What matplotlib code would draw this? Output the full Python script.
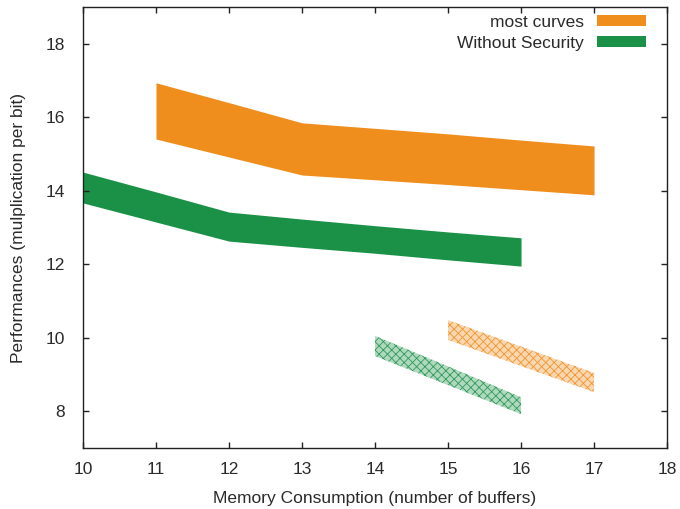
import matplotlib
matplotlib.use("Agg")
import matplotlib.pyplot as plt
from matplotlib.patches import Patch

plt.rcParams['font.family'] = ['Liberation Sans', 'DejaVu Sans']
plt.rcParams['hatch.linewidth'] = 0.6

# Solid bands
orange_x = [11, 12, 13, 14, 15, 16, 17]
orange_lo = [15.41, 14.92, 14.43, 14.30, 14.17, 14.03, 13.89]
orange_hi = [16.94, 16.40, 15.85, 15.70, 15.55, 15.38, 15.22]

green_x = [10, 11, 12, 13, 14, 15, 16]
green_lo = [13.67, 13.15, 12.63, 12.46, 12.30, 12.12, 11.95]
green_hi = [14.51, 13.97, 13.42, 13.23, 13.05, 12.88, 12.72]

# Hatched bands
orange_h_x = [15, 16, 17]
orange_h_lo = [9.94, 9.23, 8.52]
orange_h_hi = [10.48, 9.76, 9.04]

green_h_x = [14, 15, 16]
green_h_lo = [9.50, 8.71, 7.92]
green_h_hi = [10.05, 9.22, 8.38]

labels = ["most curves", "Without Security"]
ORANGE = "#ef8d1d"
GREEN = "#1b9147"
FS = 12.5
TXT = "#2a2a2a"

fig = plt.figure(figsize=(6.8, 5.09), dpi=100)
ax = fig.add_axes([0.122, 0.12, 0.859, 0.866])

ax.fill_between(orange_x, orange_lo, orange_hi, color=ORANGE, linewidth=0)
ax.fill_between(green_x, green_lo, green_hi, color=GREEN, linewidth=0)

ax.fill_between(orange_h_x, orange_h_lo, orange_h_hi, facecolor=ORANGE + "59",
                edgecolor=ORANGE + "dd", hatch="xxxx", linewidth=0)
ax.fill_between(green_h_x, green_h_lo, green_h_hi, facecolor=GREEN + "59",
                edgecolor=GREEN + "dd", hatch="xxxx", linewidth=0)

ax.set_xlim(10, 18)
ax.set_ylim(7, 19)
ax.set_xticks(range(10, 19))
ax.set_yticks([8, 10, 12, 14, 16, 18])
ax.tick_params(direction="in", top=True, right=True, length=4, width=1,
               labelsize=FS, colors="#222222", labelcolor=TXT)
ax.tick_params(axis="x", pad=10)
ax.tick_params(axis="y", pad=13)
for s in ax.spines.values():
    s.set_linewidth(1)
    s.set_color("#222222")

ax.set_xlabel("Memory Consumption (number of buffers)", fontsize=FS, labelpad=10, color=TXT)
ax.set_ylabel("Performances (mulplication per bit)", fontsize=FS, labelpad=14, color=TXT)

handles = [Patch(facecolor=ORANGE, edgecolor="none"), Patch(facecolor=GREEN, edgecolor="none")]
ax.legend(handles, labels, loc="upper right", bbox_to_anchor=(0.964, 0.983),
          frameon=False, markerfirst=False, fontsize=FS, labelcolor=TXT,
          handlelength=2.8, handleheight=0.6, handletextpad=0.8,
          labelspacing=0.36, borderaxespad=0, borderpad=0)

fig.savefig("out.png", dpi=100)
